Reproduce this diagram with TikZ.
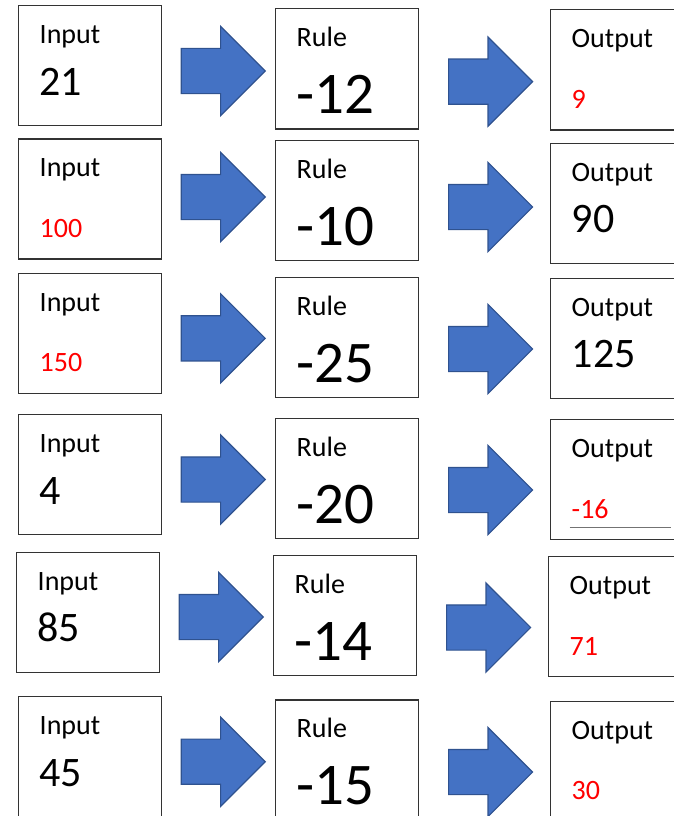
\documentclass[tikz,border=0pt]{standalone}
\usepackage{fontspec}
\setmainfont{Carlito}
\usetikzlibrary{shapes.arrows}
\definecolor{arrowblue}{HTML}{4472C4}
\definecolor{arrowedge}{HTML}{2F528F}
\tikzset{
  box/.style={draw=black!80, line width=1.2pt, minimum width=143pt, minimum height=120pt, inner sep=0pt, anchor=north west},
  flow/.style={single arrow, draw=arrowedge, fill=arrowblue, line width=1.2pt, inner sep=0pt, minimum height=84pt, single arrow head extend=22pt, text height=22pt, text depth=22pt, anchor=tail},
  heading/.style={font=\fontsize{28}{30}\selectfont, anchor=base west, inner sep=0pt},
  given/.style={font=\fontsize{42}{44}\selectfont, anchor=base west, inner sep=0pt},
  answer/.style={font=\fontsize{28}{30}\selectfont, text=red, anchor=base west, inner sep=0pt, yshift=-9pt},
  rulenum/.style={font=\fontsize{59}{60}\selectfont, anchor=base west, inner sep=0pt}
}

\begin{document}
\begin{tikzpicture}[x=1pt, y=-1pt]
\useasboundingbox (0,0) rectangle (674,816);
\clip (0,0) rectangle (674,816);
\foreach \n/\yi/\ya/\yr/\yb/\yo/\dx/\si/\vi/\vr/\so/\vo in {
  1/5/71/8.3/81.7/9.3/0/given/21/-12/answer/9,
  2/138.3/197/140/207/142.7/0/answer/100/-10/given/90,
  3/272.5/338.3/276.7/349/277.7/0/answer/150/-25/given/125,
  4/414/479.5/417.7/490/419/0/given/4/-20/answer/-16,
  5/551.7/617/555/627.5/556/-2/given/85/-14/answer/71,
  6/696/761.7/699.3/772/700.7/0/given/45/-15/answer/30}
{
\node[box] (in\n) at (18+\dx,\yi) {};
\node[box] (rule\n) at (275+\dx,\yr) {};
\node[box] (out\n) at (550+\dx,\yo) {};
\node[flow] (a\n) at (180.6+\dx,\ya) {};
\node[flow] (b\n) at (448+\dx,\yb) {};
\path (in\n.north west) ++(21.5,38.5) node[heading] (inl\n) {Input}
  ++(0,51.5) node[style/.expanded=\si] (inv\n) {\vi};
\path (rule\n.north west) ++(21.5,38.4) node[heading] (rl\n) {Rule}
  ++(0,66.9) node[rulenum] (rv\n) {\vr};
\path (out\n.north west) ++(21.5,38.6) node[heading] (ol\n) {Output}
  ++(0,51.4) node[style/.expanded=\so] (ov\n) {\vo};
}
\draw[black!55, line width=0.9pt] (out4.north west) ++(19.5,108.5) -- ++(101.5,0);
\end{tikzpicture}
\end{document}
